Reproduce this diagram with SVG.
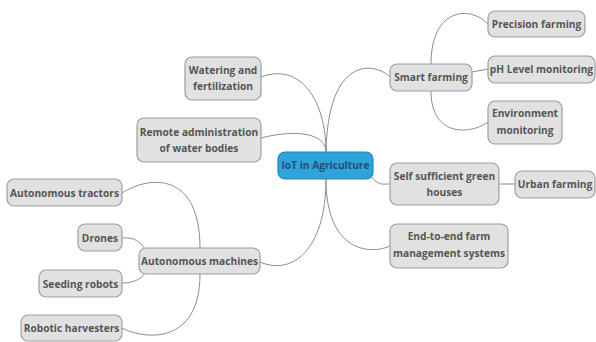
<svg xmlns="http://www.w3.org/2000/svg" width="596" height="342" viewBox="0 0 596 342">
  <style>
    .node rect { fill: #e1e1e1; stroke: #9e9e9e; stroke-width: 1.2; }
    .node text { font-family: "Open Sans", "DejaVu Sans", sans-serif; font-weight: 700; font-size: 10.2px; fill: #555555; text-anchor: middle; }
    #root rect { fill: #2ea3dc; stroke: #1f88c0; }
    #root text { fill: #24506f; }
    #links path { fill: none; stroke: #8c8c8c; stroke-width: 1; }
  </style>
  <rect width="596" height="342" fill="#ffffff"/>

  <!-- connectors -->
  <g id="links">
    <path d="M261 77 C300 62 326 100 326 152"/>
    <path d="M261 138 C300 128 326 135 326 152"/>
    <path d="M326 152 C328 55 375 62 390 77"/>
    <path d="M371 176 C378 186 383 184 390 184"/>
    <path d="M326 179 C326 252 370 255 390 246"/>
    <path d="M260 262 C292 276 326 250 326 179"/>
    <path d="M431 64 C431 8 470 5 488 24"/>
    <path d="M472 72 L488 69"/>
    <path d="M431 91 C431 137 470 135 488 122"/>
    <path d="M499 184 L515 184"/>
    <path d="M200 248 C200 172 150 175 122 193"/>
    <path d="M122 238 C135 237 140 242 145 249"/>
    <path d="M122 283 C135 283 142 278 145 273"/>
    <path d="M200 274 C200 345 145 340 122 328"/>
  </g>

  <g id="root" class="node">
    <rect x="278" y="152" width="95" height="27" rx="7"/>
    <text x="325.5" y="168.5">IoT in Agriculture</text>
  </g>

  <g id="watering" class="node">
    <rect x="185" y="57" width="76" height="43" rx="7"/>
    <text x="223" y="74">Watering and</text>
    <text x="223" y="90">fertilization</text>
  </g>

  <g id="remote-admin" class="node">
    <rect x="137" y="118" width="124" height="44" rx="7"/>
    <text x="199" y="136">Remote administration</text>
    <text x="199" y="152">of water bodies</text>
  </g>

  <g id="smart-farming" class="node">
    <rect x="390" y="64" width="82" height="27" rx="7"/>
    <text x="431" y="81">Smart farming</text>
  </g>

  <g id="precision" class="node">
    <rect x="488" y="11" width="97" height="26" rx="7"/>
    <text x="536.5" y="28">Precision farming</text>
  </g>

  <g id="ph-level" class="node">
    <rect x="488" y="56" width="107" height="27" rx="7"/>
    <text x="541.5" y="73">pH Level monitoring</text>
  </g>

  <g id="environment" class="node">
    <rect x="488" y="101" width="74" height="43" rx="7"/>
    <text x="525" y="117">Environment</text>
    <text x="525" y="134">monitoring</text>
  </g>

  <g id="greenhouses" class="node">
    <rect x="390" y="163" width="109" height="42" rx="7"/>
    <text x="444.5" y="180">Self sufficient green</text>
    <text x="444.5" y="196">houses</text>
  </g>

  <g id="urban" class="node">
    <rect x="515" y="171" width="80" height="27" rx="7"/>
    <text x="555" y="188">Urban farming</text>
  </g>

  <g id="end-to-end" class="node">
    <rect x="390" y="224" width="118" height="44" rx="7"/>
    <text x="449" y="240">End-to-end farm</text>
    <text x="449" y="257">management systems</text>
  </g>

  <g id="machines" class="node">
    <rect x="139" y="248" width="121" height="26" rx="7"/>
    <text x="199.5" y="264.5">Autonomous machines</text>
  </g>

  <g id="tractors" class="node">
    <rect x="7" y="179" width="115" height="27" rx="7"/>
    <text x="64.5" y="196.5">Autonomous tractors</text>
  </g>

  <g id="drones" class="node">
    <rect x="78" y="224" width="44" height="27" rx="7"/>
    <text x="100" y="241.5">Drones</text>
  </g>

  <g id="seeding" class="node">
    <rect x="39" y="270" width="83" height="27" rx="7"/>
    <text x="80.5" y="287.5">Seeding robots</text>
  </g>

  <g id="harvesters" class="node">
    <rect x="21" y="315" width="101" height="26" rx="7"/>
    <text x="71.5" y="332">Robotic harvesters</text>
  </g>
</svg>
